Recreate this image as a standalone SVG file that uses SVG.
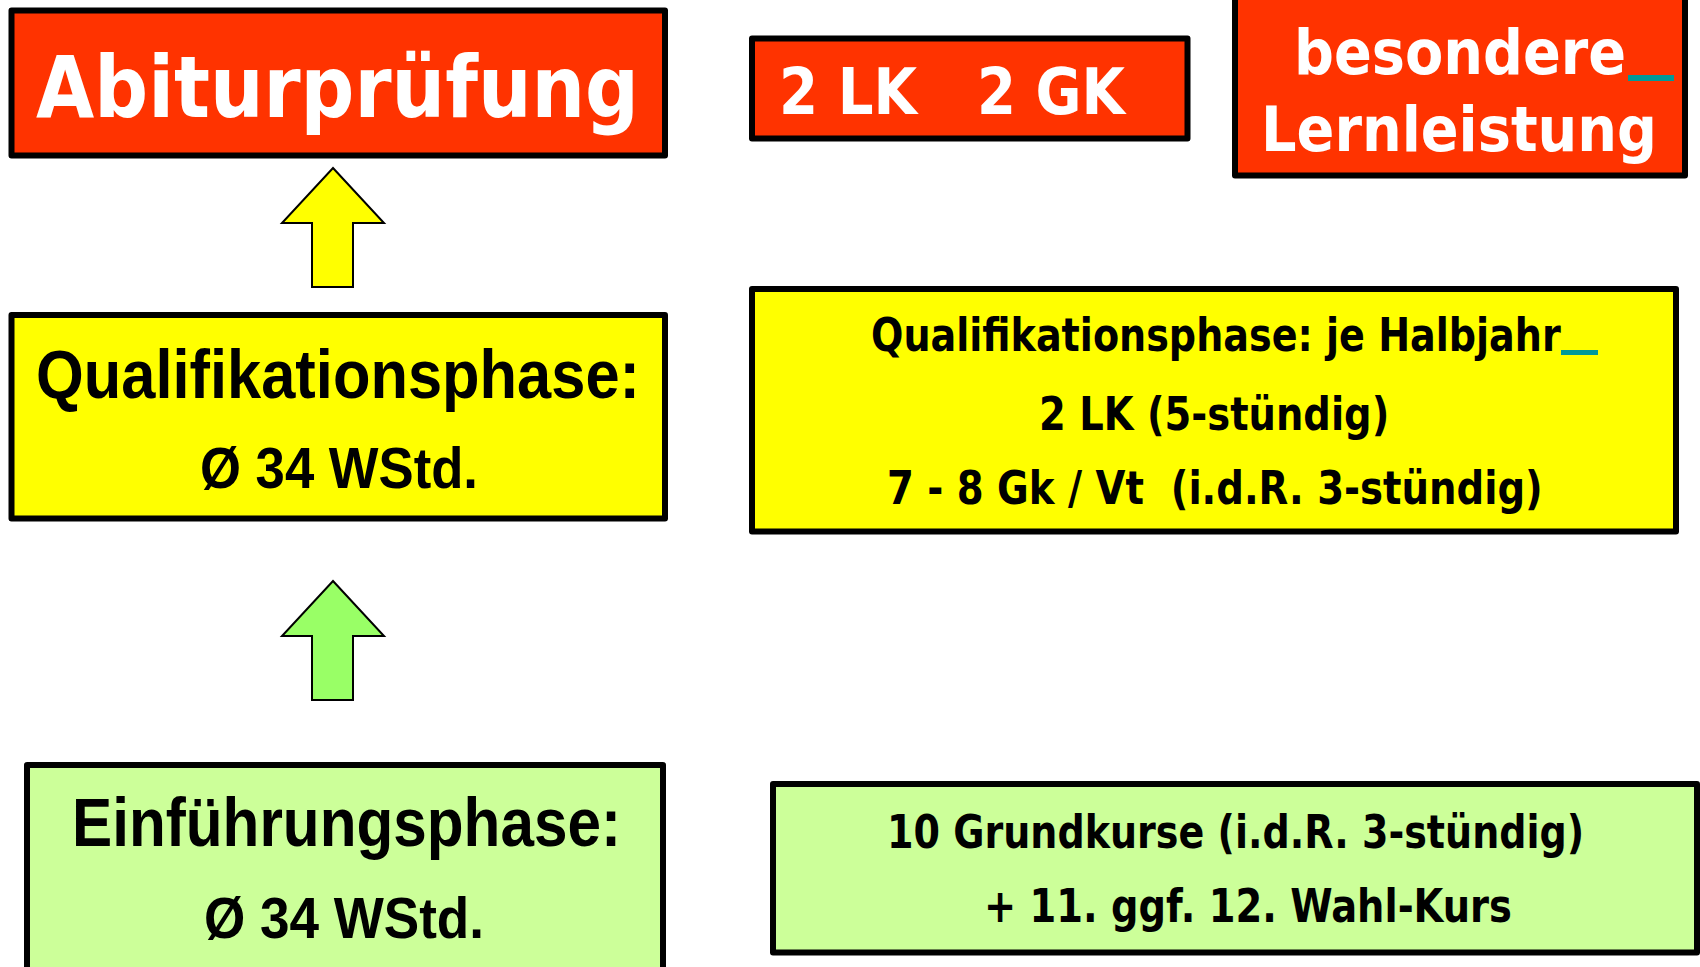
<svg xmlns="http://www.w3.org/2000/svg" width="1700" height="967" viewBox="0 0 1700 967">
<style>
.box{stroke:#000;stroke-width:6;stroke-linejoin:round}
.red{fill:#FF3300}
.yel{fill:#FFFF00}
.grn{fill:#CCFF99}
.dv{font-family:"DejaVu Sans","Liberation Sans",sans-serif;font-weight:bold}
.ls{font-family:"Liberation Sans",Arial,sans-serif;font-weight:bold}
.w{fill:#fff}
.k{fill:#000}
.arrow{stroke:#000;stroke-width:2;stroke-linejoin:miter}
.us{fill:#009999}
</style>
<rect width="1700" height="967" fill="#fff"/>
<g id="connectors">
<polygon class="arrow" fill="#FFFF00" points="333,168 384,223 353,223 353,287 312,287 312,223 282,223"/>
<polygon class="arrow" fill="#99FF66" points="333,581 384,636 353,636 353,700 312,700 312,636 282,636"/>
</g>
<g id="abitur">
<rect class="box red" x="11.5" y="10.5" width="653.5" height="145"/>
<text class="dv w" x="36" y="117" font-size="86" textLength="603" lengthAdjust="spacingAndGlyphs">Abiturprüfung</text>
</g>
<g id="lkgk">
<rect class="box red" x="752" y="38.5" width="435.5" height="100"/>
<text class="dv w" y="114" font-size="64"><tspan x="779" textLength="138" lengthAdjust="spacingAndGlyphs">2 LK</tspan><tspan x="977" textLength="148" lengthAdjust="spacingAndGlyphs">2 GK</tspan></text>
</g>
<g id="lernleistung">
<rect class="box red" x="1235" y="-10" width="450" height="185.5"/>
<text class="dv w" transform="translate(1294,74) scale(0.9,1)" x="0" y="0" font-size="62" textLength="369" lengthAdjust="spacingAndGlyphs">besondere</text>
<rect class="us" x="1628" y="75" width="46" height="6"/>
<text class="dv w" transform="translate(1261,151) scale(0.9,1)" x="0" y="0" font-size="62" textLength="440" lengthAdjust="spacingAndGlyphs">Lernleistung</text>
</g>
<g id="quali">
<rect class="box yel" x="11.5" y="315" width="653.5" height="203.5"/>
<text class="ls k" x="36" y="398" font-size="69" textLength="604" lengthAdjust="spacingAndGlyphs">Qualifikationsphase:</text>
<text class="ls k" x="200" y="488" font-size="58" textLength="278" lengthAdjust="spacingAndGlyphs">Ø 34 WStd.</text>
</g>
<g id="quali-details">
<rect class="box yel" x="752" y="289" width="924" height="242.5"/>
<text class="dv k" transform="translate(871,351) scale(0.83,1)" x="0" y="0" font-size="46" textLength="831" lengthAdjust="spacingAndGlyphs">Qualifikationsphase: je Halbjahr</text>
<rect class="us" x="1561" y="350" width="37" height="5"/>
<text class="dv k" transform="translate(1039,430) scale(0.83,1)" x="0" y="0" font-size="46" textLength="422" lengthAdjust="spacingAndGlyphs">2 LK (5-stündig)</text>
<text class="dv k" transform="translate(887,504) scale(0.83,1)" x="0" y="0" font-size="46" textLength="790" lengthAdjust="spacingAndGlyphs" xml:space="preserve">7 - 8 Gk / Vt  (i.d.R. 3-stündig)</text>
</g>
<g id="einfuehrung">
<rect class="box grn" x="27" y="765" width="636" height="220"/>
<text class="ls k" x="72" y="846" font-size="68" textLength="549" lengthAdjust="spacingAndGlyphs">Einführungsphase:</text>
<text class="ls k" x="204" y="938" font-size="58" textLength="280" lengthAdjust="spacingAndGlyphs">Ø 34 WStd.</text>
</g>
<g id="einfuehrung-details">
<rect class="box grn" x="773" y="784" width="924" height="168.5"/>
<text class="dv k" transform="translate(887,848) scale(0.83,1)" x="0" y="0" font-size="46" textLength="840" lengthAdjust="spacingAndGlyphs">10 Grundkurse (i.d.R. 3-stündig)</text>
<text class="dv k" transform="translate(984,922) scale(0.83,1)" x="0" y="0" font-size="46" textLength="636" lengthAdjust="spacingAndGlyphs">+ 11. ggf. 12. Wahl-Kurs</text>
</g>
</svg>
